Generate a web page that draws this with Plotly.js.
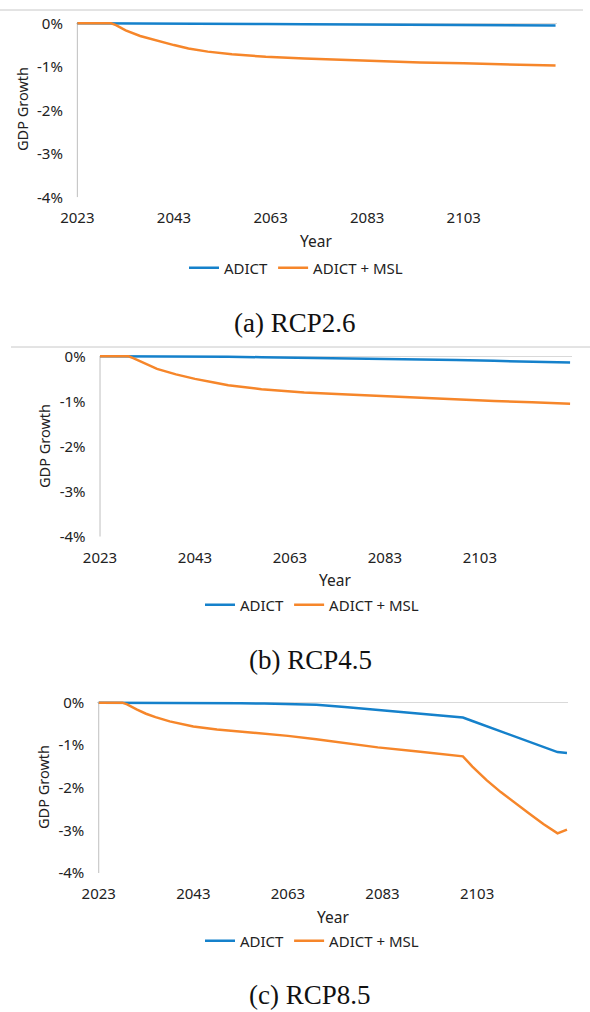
<!DOCTYPE html>
<html>
<head>
<meta charset="utf-8">
<script src="https://cdn.plot.ly/plotly-3.0.1.min.js"></script>
<style>
html,body{margin:0;padding:0;background:#fff;}
#chart{width:590px;height:1012px;}
</style>
</head>
<body>
<div id="chart"></div>
<script>
// ---------- data ----------
const seriesNames = ['ADICT', 'ADICT + MSL'];
const yTickVals = [0, -1, -2, -3, -4];
const yTickText = ['0%', '-1%', '-2%', '-3%', '-4%'];
const xTickVals = [2023, 2043, 2063, 2083, 2103];
const xTickText = ['2023', '2043', '2063', '2083', '2103'];
const captions = ['(a) RCP2.6', '(b) RCP4.5', '(c) RCP8.5'];

// RCP2.6
const yearsA = [2023, 2030, 2031, 2032, 2033, 2036, 2040, 2043, 2046, 2050, 2055, 2062, 2070, 2078, 2085, 2094, 2103, 2110, 2116, 2122];
const adictA = [0, 0, 0, 0, 0, 0, -0.005, -0.005, -0.01, -0.01, -0.01, -0.015, -0.02, -0.025, -0.03, -0.035, -0.04, -0.045, -0.05, -0.05];
const mslA   = [0, 0, -0.04, -0.1, -0.16, -0.29, -0.42, -0.5, -0.58, -0.65, -0.71, -0.77, -0.81, -0.84, -0.87, -0.9, -0.92, -0.94, -0.955, -0.97];

// RCP4.5
const yearsB = [2023, 2029, 2030, 2031, 2032, 2035, 2039, 2043, 2047, 2050, 2057, 2066, 2074, 2082, 2090, 2098, 2106, 2114, 2122];
const adictB = [0, 0, 0, 0, 0, 0, -0.005, -0.01, -0.01, -0.01, -0.02, -0.03, -0.04, -0.05, -0.06, -0.08, -0.1, -0.12, -0.14];
const mslB   = [0, 0, -0.04, -0.09, -0.14, -0.28, -0.4, -0.5, -0.58, -0.64, -0.73, -0.8, -0.84, -0.88, -0.92, -0.96, -0.99, -1.02, -1.05];

// RCP8.5
const yearsC = [2023, 2028, 2029, 2030, 2031, 2033, 2035, 2038, 2043, 2048, 2053, 2058, 2063, 2069, 2075, 2082, 2090, 2100, 2102, 2105, 2108, 2111, 2114, 2117, 2120, 2122];
const adictC = [0, 0, 0, 0, 0, 0, 0, -0.005, -0.01, -0.01, -0.015, -0.02, -0.03, -0.05, -0.1, -0.17, -0.25, -0.35, -0.43, -0.55, -0.67, -0.79, -0.92, -1.04, -1.16, -1.18];
const mslC   = [0, 0, -0.04, -0.1, -0.16, -0.26, -0.34, -0.44, -0.56, -0.63, -0.68, -0.73, -0.78, -0.86, -0.95, -1.05, -1.14, -1.26, -1.5, -1.82, -2.1, -2.36, -2.6, -2.85, -3.07, -2.98];

// ---------- layout helpers ----------
const W = 590, H = 1012;
const px = v => v / W;
const py = v => 1 - v / H;
const BLUE = '#1581CB', ORANGE = '#F6862A', GREY = '#BFBFBF';
const FONT = 'Noto Sans, Open Sans, sans-serif';

// panel geometry in pixels: left/right x, top/bottom y of plot area
const panels = [
  {years: yearsA, a: adictA, m: mslA, l: 75.9, r: 557, t: 19.0, b: 197.3, ytitleX: 22, ytitleY: 109, legX: 296, legY: 268, yearY: 241, capX: 295, capY: 323},
  {years: yearsB, a: adictB, m: mslB, l: 98.6, r: 571.5, t: 351.8, b: 536.7, ytitleX: 44, ytitleY: 446, legX: 312, legY: 605, yearY: 580, capX: 310, capY: 660},
  {years: yearsC, a: adictC, m: mslC, l: 97.3, r: 568.4, t: 698.4, b: 873, ytitleX: 43, ytitleY: 787, legX: 312, legY: 941, yearY: 917, capX: 310, capY: 995}
];

const data = [];
const layout = {
  width: W, height: H,
  margin: {l: 0, r: 0, t: 0, b: 0},
  paper_bgcolor: '#fff', plot_bgcolor: '#fff',
  font: {family: FONT, size: 15, color: '#222'},
  annotations: [],
  shapes: [
    {type: 'line', xref: 'paper', yref: 'paper', x0: px(0), x1: px(583), y0: py(10), y1: py(10), line: {color: '#C8C8C8', width: 1}},
    {type: 'line', xref: 'paper', yref: 'paper', x0: px(11), x1: px(590), y0: py(347), y1: py(347), line: {color: '#C8C8C8', width: 1}}
  ]
};

panels.forEach((p, i) => {
  const n = i + 1;
  const xa = 'x' + (n === 1 ? '' : n), ya = 'y' + (n === 1 ? '' : n);
  const xk = 'xaxis' + (n === 1 ? '' : n), yk = 'yaxis' + (n === 1 ? '' : n);
  const lg = 'legend' + (n === 1 ? '' : n);
  data.push({x: p.years, y: p.a, type: 'scatter', mode: 'lines', name: seriesNames[0], xaxis: xa, yaxis: ya, legend: lg, line: {color: BLUE, width: 2.5}});
  data.push({x: p.years, y: p.m, type: 'scatter', mode: 'lines', name: seriesNames[1], xaxis: xa, yaxis: ya, legend: lg, line: {color: ORANGE, width: 2.5}});
  layout[xk] = {
    domain: [px(p.l), px(p.r)], anchor: ya, range: [2022.7, 2122.3],
    tickvals: xTickVals, ticktext: xTickText, showgrid: false, zeroline: false, showline: false,
    ticks: '', ticklabelstandoff: 10, tickfont: {size: 15, color: '#222'}, fixedrange: true
  };
  layout[yk] = {
    domain: [py(p.b), py(p.t)], anchor: xa, range: [-4, 0.1],
    tickvals: yTickVals, ticktext: yTickText, showgrid: false, zeroline: true, zerolinecolor: '#D9D9D9', zerolinewidth: 1.5,
    showline: false, ticks: '', ticklabelstandoff: 12, tickfont: {size: 15, color: '#222'}, fixedrange: true
  };
  layout.shapes.push({type: 'line', xref: xa, yref: ya, x0: 2023, x1: 2023, y0: -4, y1: 0, layer: 'below', line: {color: GREY, width: 1}});
  layout[lg] = {
    orientation: 'h', x: px(p.legX), y: py(p.legY), xanchor: 'center', yanchor: 'middle',
    bgcolor: 'rgba(0,0,0,0)', font: {size: 15, color: '#222'}, itemwidth: 30
  };
  layout.annotations.push({text: 'GDP Growth', xref: 'paper', yref: 'paper', x: px(p.ytitleX), y: py(p.ytitleY), textangle: -90, showarrow: false, xanchor: 'center', yanchor: 'middle', font: {size: 14.5, color: '#222'}});
  layout.annotations.push({text: 'Year', xref: 'paper', yref: 'paper', x: px((p.l + p.r) / 2), y: py(p.yearY), showarrow: false, xanchor: 'center', yanchor: 'middle', font: {size: 15.5, color: '#222'}});
  layout.annotations.push({text: captions[i], xref: 'paper', yref: 'paper', x: px(p.capX), y: py(p.capY), showarrow: false, xanchor: 'center', yanchor: 'middle', font: {family: 'Liberation Serif, Times New Roman, serif', size: 27, color: '#111'}});
});

Plotly.newPlot('chart', data, layout, {staticPlot: true, displayModeBar: false});
</script>
</body>
</html>
